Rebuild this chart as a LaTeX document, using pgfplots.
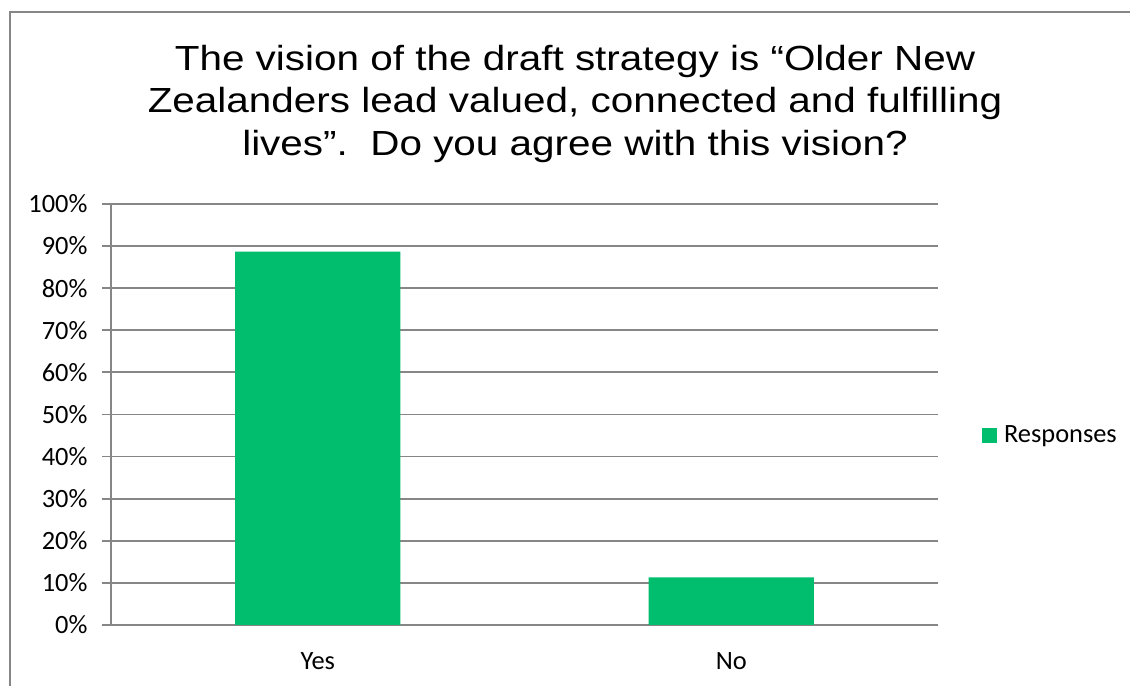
\documentclass[border=0pt]{standalone}
\usepackage{pgfplots}
\pgfplotsset{compat=1.18}
\usepackage{fontspec}
\setmainfont{Carlito}
\newfontfamily\titlefont[FakeStretch=1.16]{Liberation Sans}
\definecolor{barg}{RGB}{0,190,110}
\definecolor{gridg}{RGB}{134,134,134}
\begin{document}
\begin{tikzpicture}[x=1bp,y=1bp]
\useasboundingbox (0,0) rectangle (1130,686);
\draw[gridg,line width=2bp] (10,-10) -- (10,674) -- (1140,674);
\node[font=\titlefont\fontsize{35}{42.5}\selectfont,align=center,anchor=north,inner sep=0pt] at (575,641)
  {The vision of the draft strategy is “Older New\\Zealanders lead valued, connected and fulfilling\\lives”.\ \ Do you agree with this vision?};
\begin{axis}[
  at={(111bp,61bp)}, anchor=south west,
  scale only axis, width=827bp, height=421bp,
  xmin=-0.5, xmax=1.5, ymin=0, ymax=100,
  axis x line=bottom, axis y line=left,
  axis line style={gridg,line width=1.8bp,-},
  xtick={0,1}, xticklabels={Yes,No},
  x tick style={draw=none},
  extra x ticks={-0.5,0.5,1.5}, extra x tick labels={},
  extra x tick style={tick style={draw=gridg,line width=1.8bp}, major tick length=9bp, tick align=outside, grid=none},
  ytick={0,10,...,100},
  yticklabel={\pgfmathprintnumber[assume math mode=true]{\tick}\%},
  y tick style={draw=gridg,line width=1.8bp},
  tick align=outside, major tick length=9bp,
  ymajorgrids, major grid style={gridg,line width=1.8bp},
  tick label style={font=\fontsize{26.5}{31}\selectfont,text=black},
  yticklabel style={xshift=-11bp},
  xticklabel style={yshift=-15bp},
  ybar, bar width=0.4,
  legend style={at={(1.053,0.451)},anchor=west,draw=none,fill=none,font=\fontsize{26.5}{31}\selectfont,inner sep=0pt},
  legend image code/.code={\fill[barg] (0bp,-7.5bp) rectangle (15bp,7.5bp); \path (20bp,0bp);},
]
\addplot[fill=barg,draw=none] coordinates {(0,88.7) (1,11.3)};
\addlegendentry{Responses}
\end{axis}
\end{tikzpicture}
\end{document}
